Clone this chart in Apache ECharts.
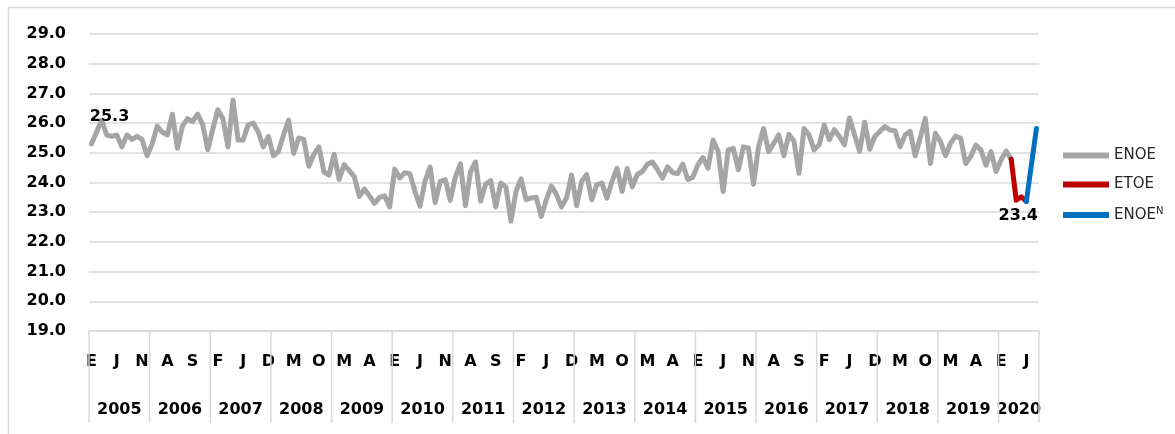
<!DOCTYPE html>
<html>
<head>
<meta charset="utf-8">
<script src="https://cdn.jsdelivr.net/npm/echarts@6/dist/echarts.min.js"></script>
<style>
  html, body { margin: 0; padding: 0; background: #fff; }
  #chart { width: 1175px; height: 434px; }
</style>
</head>
<body>
<div id="chart"></div>
<script>
"use strict";

/* datos mensuales ene-2005 .. ago-2020 */
const MONTH_INITIALS = ["E", "F", "M", "A", "M", "J", "J", "A", "S", "O", "N", "D"];
const YEARS = [2005, 2006, 2007, 2008, 2009, 2010, 2011, 2012, 2013, 2014, 2015, 2016, 2017, 2018, 2019, 2020];
const MONTHS_IN_LAST_YEAR = 8;

// ENOE: ene-2005 .. mar-2020
const ENOE = [
  25.3, 25.7, 26.1, 25.6, 25.55, 25.6, 25.2, 25.6, 25.45, 25.55, 25.45, 24.9,   // 2005
  25.3, 25.9, 25.7, 25.6, 26.3, 25.15, 25.9, 26.15, 26.05, 26.3, 25.95, 25.1,   // 2006
  25.8, 26.45, 26.15, 25.2, 26.78, 25.43, 25.43, 25.94, 26.0, 25.7, 25.2, 25.55, // 2007
  24.9, 25.05, 25.6, 26.1, 24.98, 25.5, 25.45, 24.55, 24.95, 25.2, 24.35, 24.25, // 2008
  24.95, 24.1, 24.6, 24.4, 24.2, 23.53, 23.78, 23.55, 23.3, 23.5, 23.55, 23.18, // 2009
  24.45, 24.15, 24.33, 24.3, 23.7, 23.2, 24.05, 24.52, 23.32, 24.04, 24.1, 23.4, // 2010
  24.18, 24.63, 23.22, 24.37, 24.69, 23.38, 23.95, 24.06, 23.18, 23.98, 23.85, 22.7, // 2011
  23.7, 24.12, 23.42, 23.48, 23.5, 22.86, 23.42, 23.88, 23.6, 23.18, 23.48, 24.25, // 2012
  23.22, 24.04, 24.27, 23.42, 23.93, 23.98, 23.47, 24.04, 24.48, 23.7, 24.47, 23.85, // 2013
  24.27, 24.37, 24.62, 24.69, 24.43, 24.15, 24.53, 24.33, 24.3, 24.62, 24.1, 24.18, // 2014
  24.6, 24.84, 24.48, 25.43, 25.04, 23.7, 25.1, 25.15, 24.43, 25.2, 25.16, 23.94, // 2015
  25.21, 25.82, 25.04, 25.32, 25.6, 24.9, 25.62, 25.4, 24.31, 25.82, 25.6, 25.1, // 2016
  25.27, 25.94, 25.44, 25.78, 25.55, 25.27, 26.17, 25.6, 25.05, 26.03, 25.12, 25.55, // 2017
  25.72, 25.88, 25.77, 25.74, 25.2, 25.6, 25.72, 24.9, 25.5, 26.16, 24.64, 25.66, // 2018
  25.38, 24.9, 25.32, 25.56, 25.49, 24.64, 24.88, 25.26, 25.1, 24.58, 25.04, 24.37, // 2019
  24.77, 25.06, 24.78                                                          // 2020
];
// ETOE: abr, may, jun 2020
const ETOE = [23.4, 23.52, 23.36];
// ENOE nueva edicion: jul, ago 2020
const ENOE_N = [24.6, 25.82];

const FONT = "DejaVu Sans";
const GRID_GRAY = "#d9d9d9";

// categorias: una por mes, con inicial del mes y el año
const monthCats = [];
const yearCats = [];
YEARS.forEach((y, k) => {
  const n = k === YEARS.length - 1 ? MONTHS_IN_LAST_YEAR : 12;
  for (let m = 0; m < n; m++) {
    monthCats.push(MONTH_INITIALS[m]);
    yearCats.push(String(y));
  }
});
const total = monthCats.length;
const pad = n => new Array(Math.max(n, 0)).fill(null);

// rotulo del año en el mes central de cada año
const yearLabelIdx = new Set();
YEARS.forEach((y, k) => {
  const n = k === YEARS.length - 1 ? MONTHS_IN_LAST_YEAR : 12;
  yearLabelIdx.add(k * 12 + n / 2);
});

const lastEnoe = ENOE.length - 1;
const grayData = ENOE.concat(pad(total - ENOE.length)).map((v, i) =>
  i === 0 ? { value: v, label: { show: true, position: "inside", offset: [18, -27] } } : v);
const redVals = [ENOE[lastEnoe]].concat(ETOE);
const redData = pad(lastEnoe).concat(redVals).map((v, i) =>
  i === lastEnoe + 1 ? { value: v, label: { show: true, position: "inside", offset: [2, 16] } } : v);
const blueStart = lastEnoe + ETOE.length;
const blueData = pad(blueStart).concat([ETOE[ETOE.length - 1]].concat(ENOE_N));

const lineSeries = (name, color, data, z) => ({
  name, type: "line", data, z,
  xAxisIndex: 0, yAxisIndex: 0,
  symbol: "circle", symbolSize: 1, showSymbol: true, showAllSymbol: true,
  connectNulls: false,
  lineStyle: { color, width: 5, join: "round", cap: "round" },
  itemStyle: { color },
  label: {
    show: false, fontFamily: FONT, fontWeight: "bold", fontSize: 16, color: "#000",
    formatter: p => Number(p.value).toFixed(1)
  },
  emphasis: { disabled: true }
});

// separadores de año: lineas verticales bajo el eje, en el limite de cada año
const sepData = YEARS.map((y, k) => [k * 12, 19, 0]).concat([[total - 1, 19, 1]]);
const separators = {
  type: "custom", xAxisIndex: 0, yAxisIndex: 0, silent: true, clip: false, z: 1,
  data: sepData,
  encode: { x: 0, y: 1 },
  renderItem: (params, api) => {
    const p = api.coord([api.value(0), api.value(1)]);
    const w = api.size([1, 0])[0];
    const x = api.value(2) ? p[0] + w / 2 : p[0] - w / 2;
    return {
      type: "line",
      shape: { x1: x, y1: p[1], x2: x, y2: p[1] + 92 },
      style: { stroke: GRID_GRAY, lineWidth: 1.5 }
    };
  }
};

const chart = echarts.init(document.getElementById("chart"), null, { renderer: "canvas" });
chart.setOption({
  animation: false,
  backgroundColor: "#fff",
  textStyle: { fontFamily: FONT },
  graphic: [{
    type: "rect", left: 6, top: 5, silent: true,
    shape: { width: 1300, height: 600 },
    style: { fill: "none", stroke: GRID_GRAY, lineWidth: 1.5 }
  }],
  grid: { left: 89, right: 136, top: 34, bottom: 103, containLabel: false },
  legend: {
    orient: "vertical", left: 1058, top: 143,
    itemWidth: 46, itemHeight: 6, itemGap: 14, icon: "rect",
    selectedMode: false,
    textStyle: {
      fontFamily: FONT, fontSize: 15, color: "#262626",
      rich: { sup: { fontFamily: FONT, fontSize: 10, color: "#262626", verticalAlign: "top", padding: [0, 0, 8, 0] } }
    },
    formatter: name => name === "ENOE_N" ? "ENOE{sup|N}" : name,
    data: ["ENOE", "ETOE", "ENOE_N"]
  },
  xAxis: [{
    type: "category", data: monthCats, position: "bottom", boundaryGap: true,
    axisLine: { show: true, lineStyle: { color: GRID_GRAY, width: 1.5 } },
    axisTick: { show: false },
    axisLabel: { interval: 4, margin: 23, fontFamily: FONT, fontWeight: "bold",
                 fontSize: 16, color: "#000" },
    splitLine: { show: false }
  }, {
    type: "category", data: yearCats, position: "bottom", boundaryGap: true,
    axisLine: { show: false }, axisTick: { show: false },
    axisLabel: { interval: i => yearLabelIdx.has(i), margin: 71, padding: [0, 5, 0, 0],
                 fontFamily: FONT, fontWeight: "bold", fontSize: 16, color: "#000" },
    splitLine: { show: false }
  }],
  yAxis: {
    type: "value", min: 19, max: 29, interval: 1,
    axisLine: { show: false }, axisTick: { show: false },
    axisLabel: { margin: 23, fontFamily: FONT, fontWeight: "bold", fontSize: 16,
                 color: "#000", formatter: v => v.toFixed(1) },
    splitLine: { lineStyle: { color: GRID_GRAY, width: 1.5 } }
  },
  series: [
    separators,
    lineSeries("ENOE", "#a5a5a5", grayData, 2),
    lineSeries("ETOE", "#c00000", redData, 3),
    lineSeries("ENOE_N", "#0070c0", blueData, 4)
  ]
});
</script>
</body>
</html>
